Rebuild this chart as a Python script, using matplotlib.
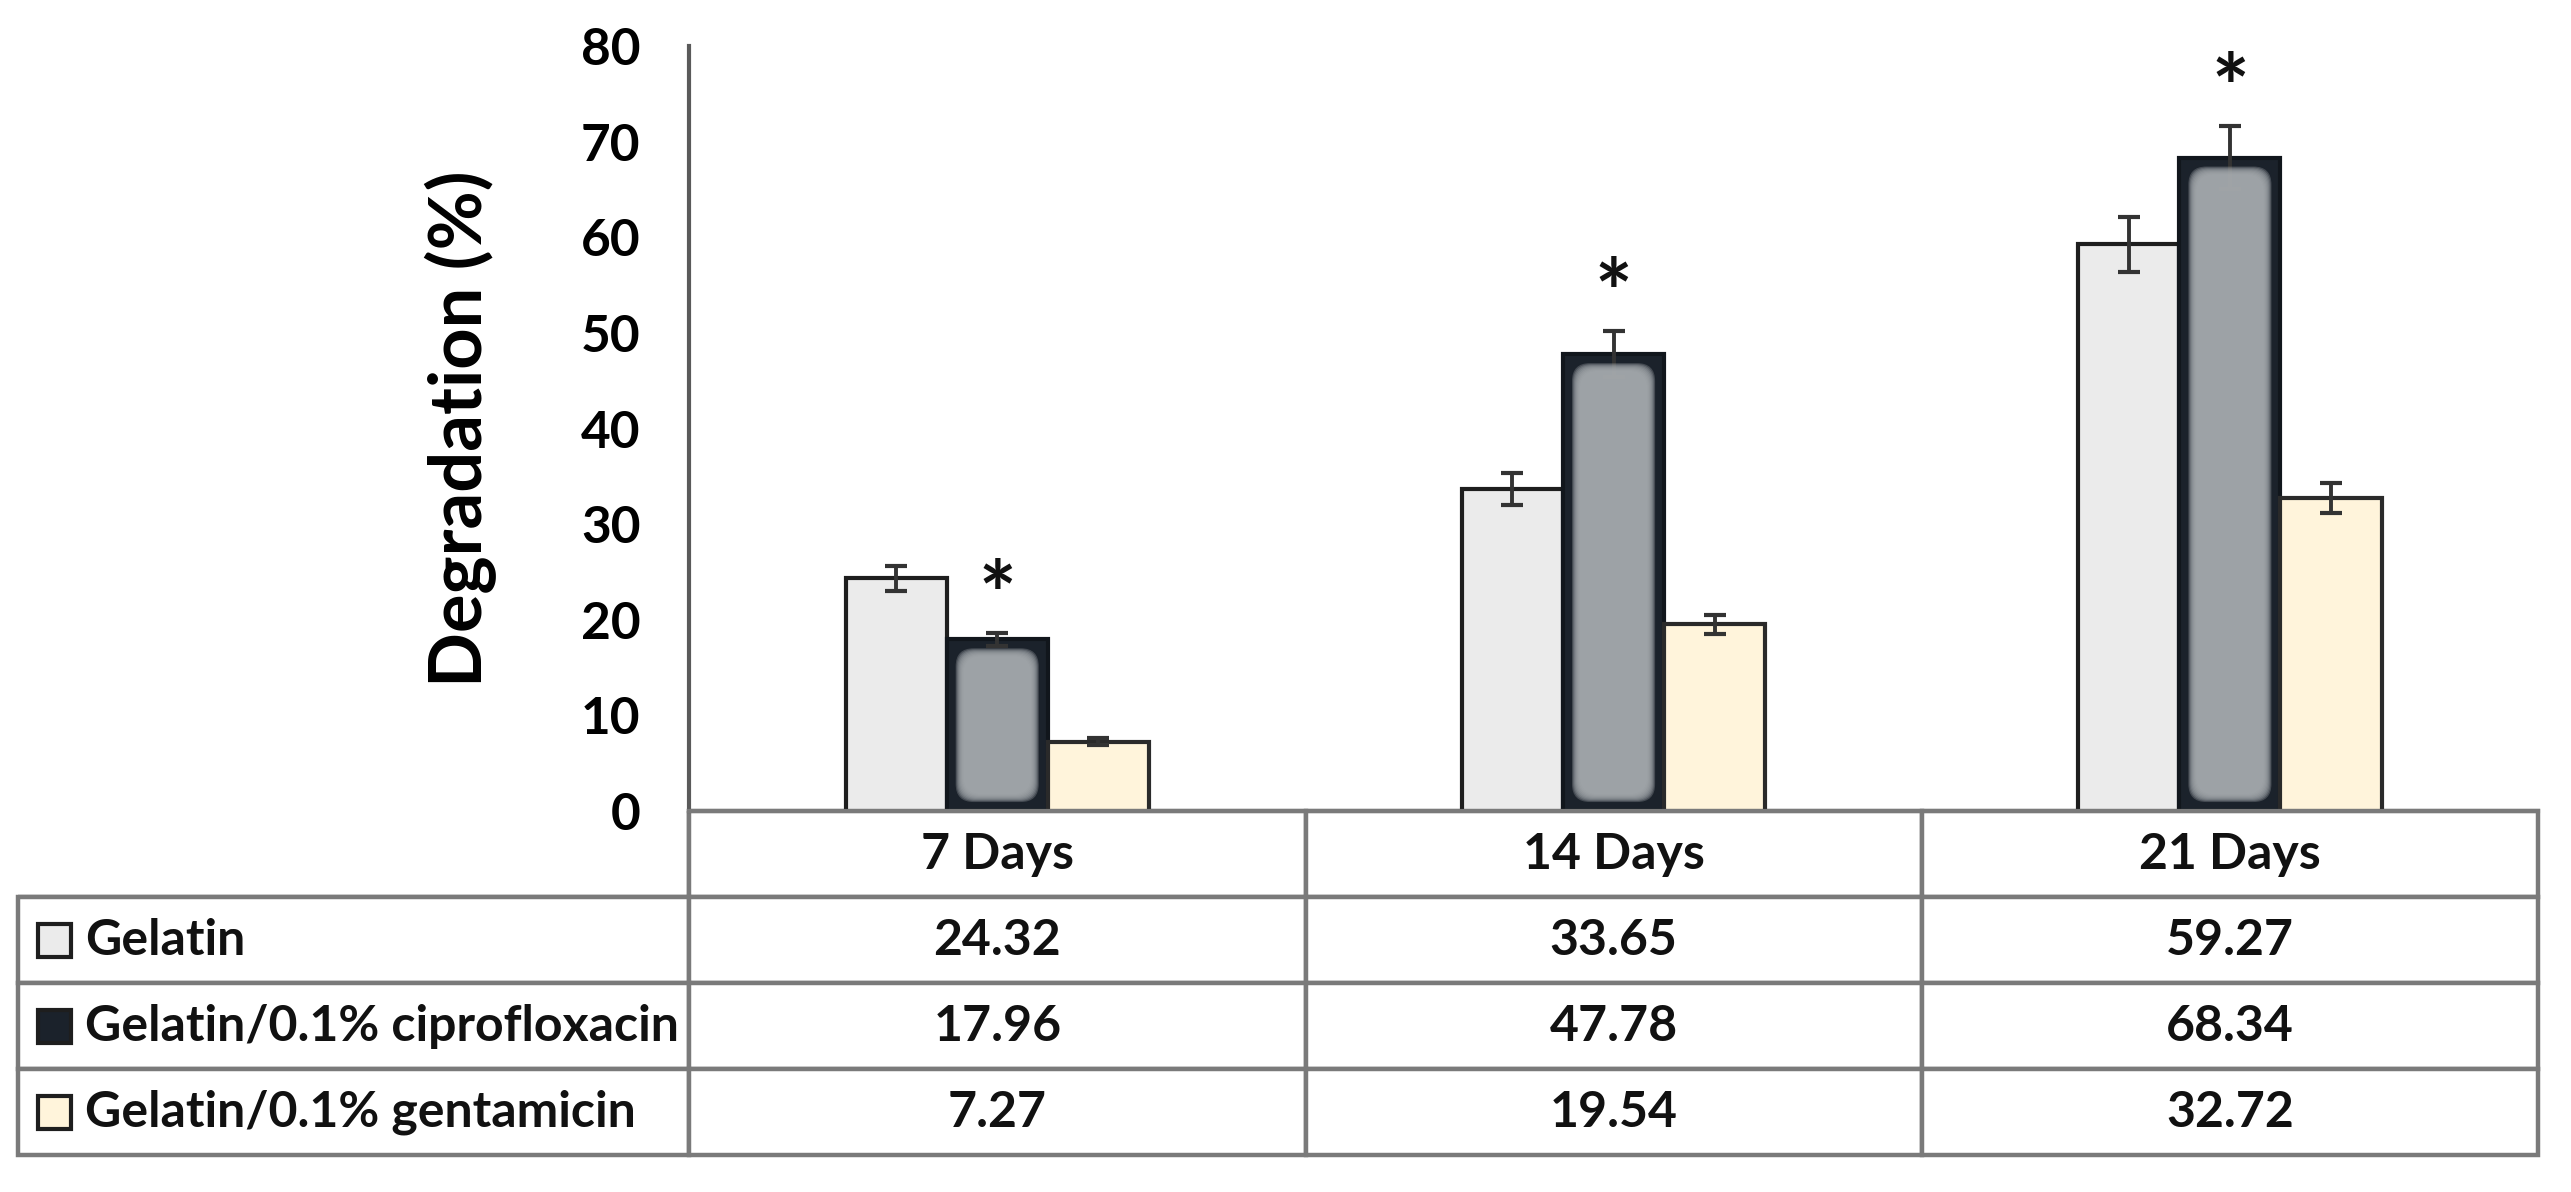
import numpy as np
import matplotlib
matplotlib.use("Agg")
import matplotlib.pyplot as plt
from matplotlib.patches import Rectangle, FancyBboxPatch

plt.rcParams['font.family'] = ['Lato', 'DejaVu Sans']
plt.rcParams['font.weight'] = 'bold'

# data
days = ['7 Days', '14 Days', '21 Days']
series = ['Gelatin', 'Gelatin/0.1% ciprofloxacin', 'Gelatin/0.1% gentamicin']
gelatin = [24.32, 33.65, 59.27]
cipro = [17.96, 47.78, 68.34]
genta = [7.27, 19.54, 32.72]
gelatin_err = [1.3, 1.65, 2.9]
cipro_err = [0.7, 2.4, 3.3]
genta_err = [0.4, 1.0, 1.6]
significant = [True, True, True]   # * over the ciprofloxacin bars

face_colors = ['#ebebeb', '#1b222b', '#fff4db']
edge_colors = ['#1e1e1e', '#11161c', '#2a2a2a']
inner_gray = '#a4a9ad'

fig = plt.figure(figsize=(25.71, 11.92), dpi=100)
ax = fig.add_axes([0.2680, 0.3196, 0.7192, 0.6418])

x = np.arange(len(days))
w = 0.164
values = [gelatin, cipro, genta]
errors = [gelatin_err, cipro_err, genta_err]

bar_sets = []
for i in range(3):
    bars = ax.bar(x + (i - 1) * w, values[i], width=w, color=face_colors[i],
                  edgecolor=edge_colors[i], linewidth=3, zorder=2)
    bar_sets.append(bars)
    ax.errorbar(x + (i - 1) * w, values[i], yerr=errors[i], fmt='none',
                ecolor='#333333', elinewidth=2.8, capsize=8, capthick=3,
                zorder=3)

ax.set_xlim(-0.5, 2.5)
ax.set_ylim(0, 80)

# soft rounded gray insert inside the ciprofloxacin bars
ax_w_px = 0.7192 * 2571
ax_h_px = 0.6418 * 1192
px_x = ax_w_px / 3.0
px_y = ax_h_px / 80.0
for b in bar_sets[1]:
    x0, bw, bh = b.get_x(), b.get_width(), b.get_height()
    for k in range(9):
        inset = 9 + k * 1.0
        bx = x0 + inset / px_x
        by = inset / px_y
        ww = bw - 2 * inset / px_x
        hh = bh - 2 * inset / px_y
        r = 18 / px_x
        p = FancyBboxPatch((bx, by), ww, hh,
                           boxstyle="round,pad=0,rounding_size=%f" % r,
                           mutation_aspect=px_x / px_y,
                           fc=inner_gray, ec='none', alpha=0.3, zorder=4)
        ax.add_patch(p)

# asterisks
for j in range(len(days)):
    if significant[j]:
        ax.text(x[j], cipro[j] + cipro_err[j] + 0.6, '*', ha='center',
                va='baseline', fontsize=64, fontweight='bold', color='#111111')

ax.set_yticks(np.arange(0, 81, 10))
ax.set_xticks([])
ax.tick_params(axis='y', length=0, labelsize=37, pad=35)
for lab in ax.get_yticklabels():
    lab.set_fontweight('bold')
ax.set_ylabel('Degradation (%)', fontsize=52, fontweight='bold')
ax.yaxis.set_label_coords(-0.104, 0.5)

for s in ['top', 'right']:
    ax.spines[s].set_visible(False)
ax.spines['left'].set_color('#5a5a5a')
ax.spines['left'].set_linewidth(3)
ax.spines['bottom'].set_color('#7a7a7a')
ax.spines['bottom'].set_linewidth(3)

# data table under the chart
cell_text = []
for name, vals in zip(series, values):
    cell_text.append([name] + ['%.2f' % v for v in vals])
col_labels = [''] + days
col_widths = [671, 616, 616, 616]

tbl = ax.table(cellText=cell_text, colLabels=col_labels,
               colWidths=[c / sum(col_widths) for c in col_widths],
               cellLoc='center', bbox=[-0.3629, -0.4497, 1.3629, 0.4497])
tbl.auto_set_font_size(False)
tbl.set_fontsize(36)
for (r, c), cell in tbl.get_celld().items():
    cell.set_edgecolor('#7a7a7a')
    cell.set_linewidth(3.2)
    cell.get_text().set_fontweight('bold')
    cell.get_text().set_color('#111111')
    if c == 0:
        cell._loc = 'left'
        cell.PAD = 0.1
        cell.get_text().set_ha('left')
    if r == 0 and c == 0:
        cell.visible_edges = 'BR'

fig.canvas.draw()
renderer = fig.canvas.get_renderer()
for r in range(1, 4):
    bb = tbl[r, 0].get_window_extent(renderer)
    size = 33
    key = Rectangle((bb.x0 + 20, (bb.y0 + bb.y1) / 2 - size / 2), size, size,
                    transform=None, facecolor=face_colors[r - 1],
                    edgecolor='#1e1e1e', linewidth=3)
    fig.patches.append(key)

fig.savefig('out.png', dpi=100, facecolor='white')
